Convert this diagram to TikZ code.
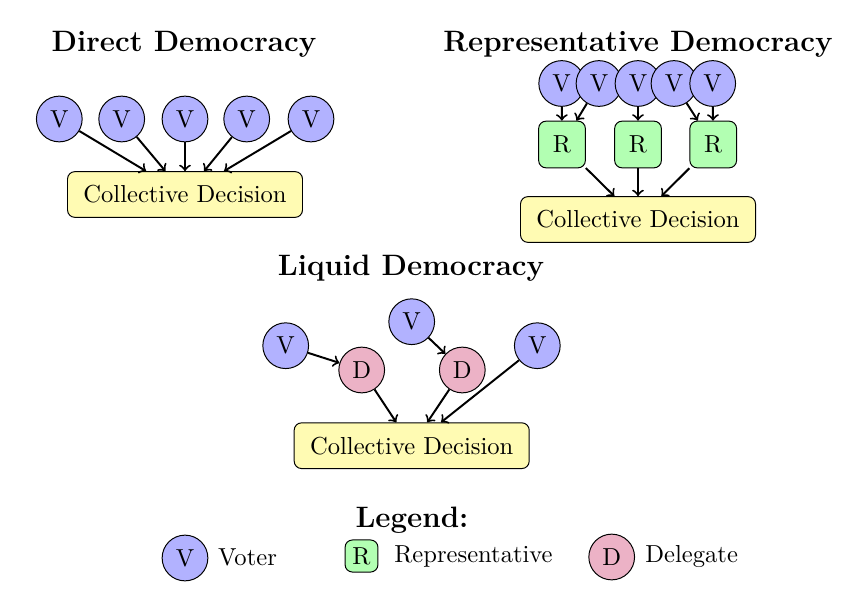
\documentclass[tikz,border=0pt]{standalone}
\begin{document}
\begin{tikzpicture}[x=0.0143cm,y=-0.0143cm,
  voter/.style={circle,draw,fill=blue!30,inner sep=0pt,minimum size=18.6pt},
  deleg/.style={circle,draw,fill=purple!30,inner sep=0pt,minimum size=18.6pt},
  repbox/.style={rectangle,rounded corners=3pt,draw,fill=green!30,minimum width=19pt,minimum height=19pt},
  legrep/.style={rectangle,rounded corners=3pt,draw,fill=green!30,inner sep=3pt},
  decision/.style={rectangle,rounded corners=3pt,draw,fill=yellow!30,minimum width=95.6pt,minimum height=18.6pt},
  ttl/.style={font=\large\bfseries},
  arr/.style={->,thick}]
\useasboundingbox (0,0) rectangle (858,593);

% Direct democracy
\node[ttl] (t1) at (184,44) {Direct Democracy};
\node[voter] (d1) at (59.3,119) {V};
\node[voter] (d2) at (121.7,119) {V};
\node[voter] (d3) at (185,119) {V};
\node[voter] (d4) at (246.7,119) {V};
\node[voter] (d5) at (311,119) {V};
\node[decision] (dcd) at (185,194.5) {Collective Decision};
\foreach \i in {1,...,5} \draw[arr] (d\i) -- (dcd);

% Representative democracy
\node[ttl] (t2) at (638,44) {Representative Democracy};
\node[voter] (r1) at (561.7,83.5) {V};
\node[voter] (r2) at (599,83.5) {V};
\node[voter] (r3) at (638,83.5) {V};
\node[voter] (r4) at (674,83.5) {V};
\node[voter] (r5) at (712.7,83.5) {V};
\node[repbox] (R1) at (562,144.5) {R};
\node[repbox] (R2) at (638,144.5) {R};
\node[repbox] (R3) at (713.2,144.5) {R};
\node[decision] (rcd) at (638,219.5) {Collective Decision};
\draw[arr] (r1) -- (R1);
\draw[arr] (r2) -- (R1);
\draw[arr] (r3) -- (R2);
\draw[arr] (r4) -- (R3);
\draw[arr] (r5) -- (R3);
\draw[arr] (R1) -- (rcd);
\draw[arr] (R2) -- (rcd);
\draw[arr] (R3) -- (rcd);

% Liquid democracy
\node[ttl] (t3) at (411,268) {Liquid Democracy};
\node[voter] (l1) at (285.7,345.7) {V};
\node[deleg] (ld1) at (361.7,370) {D};
\node[voter] (l2) at (411.7,321.7) {V};
\node[deleg] (ld2) at (462.3,370) {D};
\node[voter] (l3) at (537.3,345.7) {V};
\node[decision] (lcd) at (411.7,445.7) {Collective Decision};
\draw[arr] (l1) -- (ld1);
\draw[arr] (l2) -- (ld2);
\draw[arr] (ld1) -- (lcd);
\draw[arr] (ld2) -- (lcd);
\draw[arr] (l3) -- (lcd);

% Legend
\node[ttl] (t4) at (412,520) {Legend:};
\node[voter] (kv) at (185,558) {V};
\node (kvt) at (247.5,557) {Voter};
\node[legrep] (kr) at (361.5,556) {R};
\node (krt) at (473.5,556) {Representative};
\node[deleg] (kd) at (611.7,557) {D};
\node (kdt) at (691.7,556) {Delegate};
\end{tikzpicture}
\end{document}
